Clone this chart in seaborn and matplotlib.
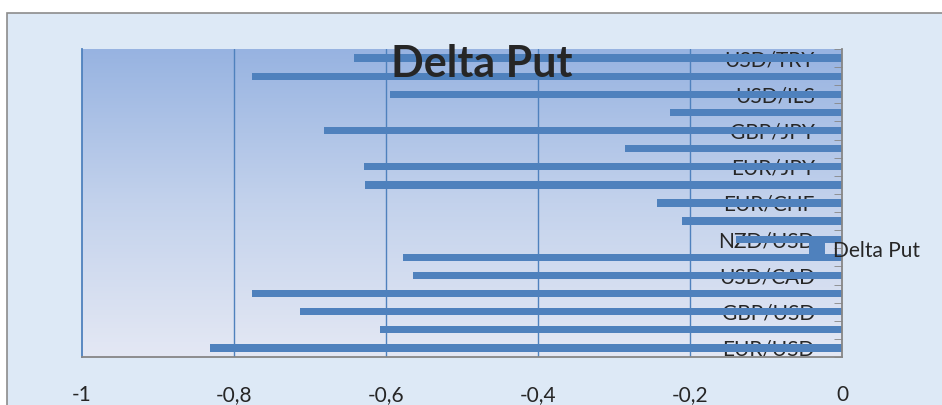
import numpy as np
import pandas as pd
import matplotlib
matplotlib.use("Agg")
import matplotlib.pyplot as plt
from matplotlib.colors import LinearSegmentedColormap
from matplotlib.patches import Rectangle
import seaborn as sns

# data (top to bottom)
pair_labels = ["USD/TRY", "USD/ILS", "GBP/JPY", "EUR/JPY", "EUR/CHF",
               "NZD/USD", "USD/CAD", "GBP/USD", "EUR/USD"]
delta_put = [-0.642, -0.776, -0.595, -0.226, -0.682, -0.286, -0.629, -0.627,
             -0.243, -0.210, -0.140, -0.578, -0.564, -0.776, -0.713, -0.608,
             -0.832]
xtick_values = [-1, -0.8, -0.6, -0.4, -0.2, 0]
xtick_labels = ["-1", "-0,8", "-0,6", "-0,4", "-0,2", "0"]

# only every other category gets a label (as in the original chart)
categories = ["c%d" % i for i in range(len(delta_put))]
ytick_labels = [pair_labels[i // 2] if i % 2 == 0 else "" for i in range(len(delta_put))]
df = pd.DataFrame({"pair": categories, "delta": delta_put})

sns.set_style("white")
plt.rcParams["font.family"] = ["Lato", "DejaVu Sans"]

fig = plt.figure(figsize=(9.42, 4.05), dpi=100)
fig.patch.set_facecolor("white")

# chart area background with grey border
fig.add_artist(Rectangle((7 / 942, -0.05), 1.0, 1.05 - 13 / 405,
                         transform=fig.transFigure, facecolor="#dde9f6",
                         edgecolor="#8c8c8c", lw=1.2, zorder=-5))

ax = fig.add_axes([82 / 942, 48 / 405, 760 / 942, 308 / 405])
ax.set_facecolor("none")

# gradient plot area
cmap = LinearSegmentedColormap.from_list("pa", ["#e4e8f4", "#c3d2ec", "#97b3e1"])
grad = np.linspace(0, 1, 256).reshape(-1, 1)
ax.imshow(grad, cmap=cmap, origin="lower", aspect="auto",
          extent=[0, 1, 0, 1], transform=ax.transAxes, zorder=0)

# vertical gridlines
for xv in xtick_values[1:-1]:
    ax.axvline(xv, color="#4f81bd", lw=1, zorder=0.8)

sns.barplot(data=df, x="delta", y="pair", orient="h", color="#4f81bd",
            saturation=1, width=0.4, ax=ax, label="Delta Put",
            linewidth=0, zorder=1)

ax.set_xlim(-1, 0)
ax.set_ylim(len(delta_put) - 0.5, -0.5)
ax.set_xlabel("")
ax.set_ylabel("")
ax.grid(False)

ax.spines["top"].set_visible(False)
ax.spines["left"].set_color("#4f81bd")
ax.spines["bottom"].set_color("#868686")
ax.spines["right"].set_color("#868686")
for s in ["left", "bottom", "right"]:
    ax.spines[s].set_linewidth(1.3)

ax.set_xticks(xtick_values)
ax.set_xticklabels(xtick_labels, fontsize=15)
ax.tick_params(axis="x", direction="out", length=7, color="#868686", pad=13)

ax.set_yticks(range(len(delta_put)))
ax.set_yticklabels(ytick_labels, fontsize=15)
ax.yaxis.tick_right()
ax.tick_params(axis="y", which="major", length=0, pad=-19.5)
ax.set_yticks(np.arange(-0.5, len(delta_put), 1), minor=True)
ax.tick_params(axis="y", which="minor", direction="in", length=6,
               color="#868686", right=True, left=False)
for lab in ax.get_yticklabels():
    lab.set_ha("right")

leg = ax.get_legend()
if leg is not None:
    leg.remove()
fig.legend(*ax.get_legend_handles_labels(), loc="center left",
           bbox_to_anchor=(809 / 942, 1 - 251 / 405), frameon=False,
           fontsize=15, borderpad=0, borderaxespad=0,
           handlelength=0.75, handleheight=0.55, handletextpad=0.4)

fig.text(482 / 942, 1 - 64 / 405, "Delta Put", ha="center", va="center",
         fontsize=31, fontweight="bold", zorder=10)

fig.savefig("out.png", dpi=100)
